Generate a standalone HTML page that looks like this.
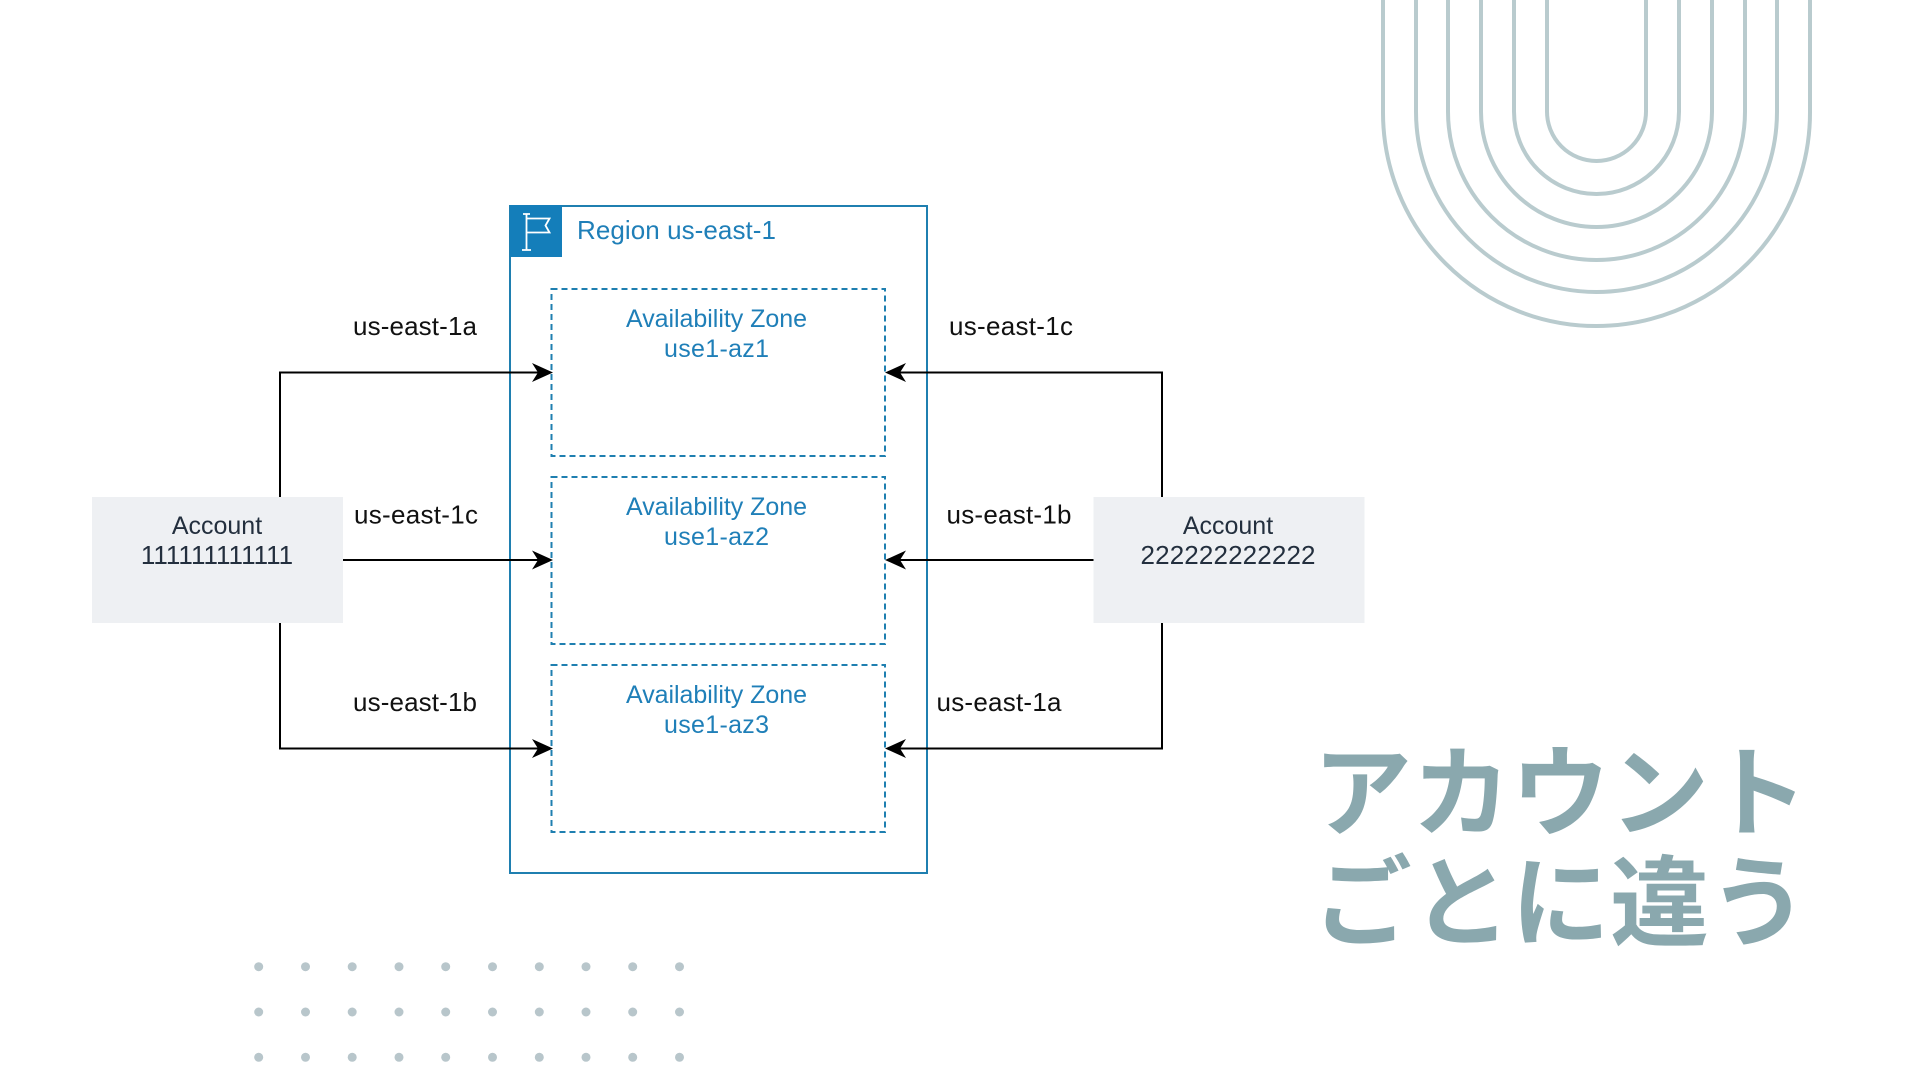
<!DOCTYPE html>
<html>
<head>
<meta charset="utf-8">
<style>
html,body{margin:0;padding:0;width:1920px;height:1080px;background:#fff;overflow:hidden}
svg{display:block;position:absolute;left:0;top:0}
text{font-family:"Liberation Sans",sans-serif;font-size:26px}
.b{fill:#1f7fb8;text-anchor:middle;font-size:25px}
.a{fill:#232f3e;text-anchor:middle}
.l{fill:#111}
.j{font-family:"Liberation Sans","Noto Sans CJK JP",sans-serif;font-size:99px;font-weight:700;fill:#8aa8ae}
</style>
</head>
<body>
<svg width="1920" height="1080" viewBox="0 0 1920 1080" xmlns="http://www.w3.org/2000/svg">
<g fill="none" stroke="#b9cbce" stroke-width="4">
<path d="M1547 0V111.500A49.500 49.500 0 0 0 1646 111.500V0"/>
<path d="M1514 0V111.500A82.500 82.500 0 0 0 1679 111.500V0"/>
<path d="M1481 0V111.500A115.500 115.500 0 0 0 1712 111.500V0"/>
<path d="M1448 0V111.500A148.500 148.500 0 0 0 1745 111.500V0"/>
<path d="M1416 0V111.500A180.500 180.500 0 0 0 1777 111.500V0"/>
<path d="M1383 0V112.500A213.500 213.500 0 0 0 1810 112.500V0"/>
</g>

<g fill="#b8c6cb">
<circle cx="258.7" cy="966.7" r="4.5"/><circle cx="305.5" cy="966.7" r="4.5"/><circle cx="352.2" cy="966.7" r="4.5"/><circle cx="399" cy="966.7" r="4.5"/><circle cx="445.7" cy="966.7" r="4.5"/><circle cx="492.5" cy="966.7" r="4.5"/><circle cx="539.3" cy="966.7" r="4.5"/><circle cx="586" cy="966.7" r="4.5"/><circle cx="632.7" cy="966.7" r="4.5"/><circle cx="679.5" cy="966.7" r="4.5"/>
<circle cx="258.7" cy="1012" r="4.5"/><circle cx="305.5" cy="1012" r="4.5"/><circle cx="352.2" cy="1012" r="4.5"/><circle cx="399" cy="1012" r="4.5"/><circle cx="445.7" cy="1012" r="4.5"/><circle cx="492.5" cy="1012" r="4.5"/><circle cx="539.3" cy="1012" r="4.5"/><circle cx="586" cy="1012" r="4.5"/><circle cx="632.7" cy="1012" r="4.5"/><circle cx="679.5" cy="1012" r="4.5"/>
<circle cx="258.7" cy="1057.3" r="4.5"/><circle cx="305.5" cy="1057.3" r="4.5"/><circle cx="352.2" cy="1057.3" r="4.5"/><circle cx="399" cy="1057.3" r="4.5"/><circle cx="445.7" cy="1057.3" r="4.5"/><circle cx="492.5" cy="1057.3" r="4.5"/><circle cx="539.3" cy="1057.3" r="4.5"/><circle cx="586" cy="1057.3" r="4.5"/><circle cx="632.7" cy="1057.3" r="4.5"/><circle cx="679.5" cy="1057.3" r="4.5"/>
</g>

<rect x="92" y="497" width="251" height="126" fill="#eef0f3"/>
<rect x="1093.500" y="497" width="271" height="126" fill="#eef0f3"/>

<rect x="510" y="206" width="417" height="667" fill="none" stroke="#1f7fb0" stroke-width="2"/>
<rect x="510" y="205" width="52" height="52" fill="#147eba"/>
<g fill="none" stroke="#fff" stroke-width="1.8">
<path d="M526.500 214V250M523 214H530M522 250H531"/>
<path d="M526.500 218.500H549.500L545.500 225.500L549.500 232.500H526.500"/>
</g>

<g fill="none" stroke="#1f7fb0" stroke-width="2" stroke-dasharray="6 4">
<rect x="551.500" y="289" width="333.500" height="167"/>
<rect x="551.500" y="477" width="333.500" height="167"/>
<rect x="551.500" y="665" width="333.500" height="167"/>
</g>

<g fill="none" stroke="#000" stroke-width="2">
<path d="M280 497V372.500H540"/>
<path d="M343 560H540"/>
<path d="M280 623V748.500H540"/>
<path d="M1162 497V372.500H898"/>
<path d="M1093.500 560H898"/>
<path d="M1162 623V748.500H898"/>
</g>
<g fill="#000">
<path d="M553 372.500L532 363L538 372.500L532 382Z"/>
<path d="M553 560L532 550.500L538 560L532 569.500Z"/>
<path d="M553 748.500L532 739L538 748.500L532 758Z"/>
<path d="M885 372.500L906 363L900 372.500L906 382Z"/>
<path d="M885 560L906 550.500L900 560L906 569.500Z"/>
<path d="M885 748.500L906 739L900 748.500L906 758Z"/>
</g>

<text x="577" y="239" fill="#1f7fb8" textLength="199">Region us-east-1</text>

<text class="b" x="716.500" y="327" textLength="181">Availability Zone</text>
<text class="b" x="716.500" y="357" textLength="105">use1-az1</text>
<text class="b" x="716.500" y="515" textLength="181">Availability Zone</text>
<text class="b" x="716.500" y="545" textLength="105">use1-az2</text>
<text class="b" x="716.500" y="703" textLength="181">Availability Zone</text>
<text class="b" x="716.500" y="733" textLength="105">use1-az3</text>

<text class="a" x="217" y="534" style="font-size:25px">Account</text>
<text class="a" x="217" y="564">111111111111</text>
<text class="a" x="1228" y="534" style="font-size:25px">Account</text>
<text class="a" x="1228" y="564" textLength="175">222222222222</text>

<text class="l" x="353" y="335" textLength="124">us-east-1a</text>
<text class="l" x="354" y="523.500" textLength="124">us-east-1c</text>
<text class="l" x="353" y="711" textLength="124">us-east-1b</text>
<text class="l" x="949" y="335" textLength="124">us-east-1c</text>
<text class="l" x="946.500" y="523.500" textLength="125">us-east-1b</text>
<text class="l" x="936.500" y="711" textLength="125">us-east-1a</text>

<text class="j" x="1313" y="828">アカウント</text>
<text class="j" x="1313" y="938">ごとに違う</text>
</svg>
</body>
</html>
